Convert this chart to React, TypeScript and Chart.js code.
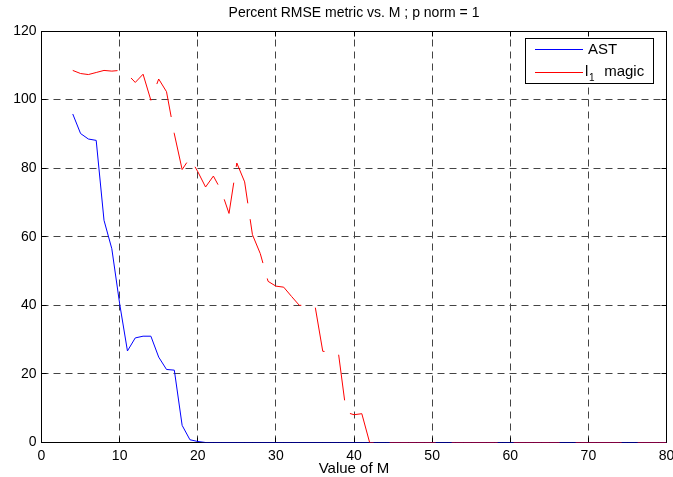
import React, { useEffect, useRef } from "react";
import { Chart, registerables } from "chart.js";

Chart.register(...registerables);

const TITLE = "Percent RMSE metric vs. M ; p norm = 1";
const X_LABEL = "Value of M";
const SERIES_NAMES = ["AST", "l1 magic"];

const M_VALUES = [
  4, 5, 6, 7, 8, 9, 10, 11, 12, 13,
  14, 15, 16, 17, 18, 19, 20, 21, 22, 23,
  24, 25, 26, 27, 28, 29, 30, 31, 32, 33,
  34, 35, 36, 37, 38, 39, 40, 41, 42, 43,
  44, 45, 46, 47, 48, 49, 50, 51, 52, 53,
  54, 55, 56, 57, 58, 59, 60, 61, 62, 63,
  64, 65, 66, 67, 68, 69, 70, 71, 72, 73,
  74, 75, 76, 77, 78, 79, 80,
];

const AST_VALUES = [
  95.8, 90.1, 88.5, 88.1, 64.8, 56.5, 40.5, 26.7, 30.5, 31,
  31, 24.9, 21.3, 21.1, 5, 0.8, 0.3, 0, 0, 0,
  0, 0, 0, 0, 0, 0, 0, 0, 0, 0,
  0, 0, 0, 0, 0, 0, 0, 0, 0, 0,
  0, 0, 0, 0, 0, 0, 0, 0, 0, 0,
  0, 0, 0, 0, 0, 0, 0, 0, 0, 0,
  0, 0, 0, 0, 0, 0, 0, 0, 0, 0,
  0, 0, 0, 0, 0, 0, 0,
];

const L1_VALUES = [
  108.5, 107.6, 107.3, 107.9, 108.5, 108.3, 108.5, 107.4, 105, 107.4,
  99.8, 106, 102.3, 90, 79.6, 83, 79, 74.5, 77.7, 73.5,
  66.8, 81.5, 76, 60.6, 55.1, 47, 45.6, 45.3, 42.6, 40,
  40, 40, 26.6, 26.4, 26.2, 8.8, 8.1, 8.4, 0, 0,
  0, 0, 0, 0, 0, 0, 0, 0, 0, 0,
  0, 0, 0, 0, 0, 0, 0, 0, 0, 0,
  0, 0, 0, 0, 0, 0, 0, 0, 0, 0,
  0, 0, 0, 0, 0, 0, 0,
];

const X_MIN = 0;
const X_MAX = 80;
const X_STEP = 10;
const Y_MIN = 0;
const Y_MAX = 120;
const Y_STEP = 20;

const FONT = 'Arial, "Liberation Sans", Helvetica, sans-serif';
const W = 673;
const H = 477;

const matlabPlugin = {
  id: "matlabDecor",
  beforeDatasetsDraw(chart: any) {
    const { ctx, chartArea: a, scales } = chart;
    const xs = scales.x;
    const ys = scales.y;
    const L = Math.floor(a.left) + 0.5;
    const R = Math.floor(a.right) + 0.5;
    const T = Math.floor(a.top) + 0.5;
    const B = Math.floor(a.bottom) + 0.5;
    ctx.save();
    // dashed grid
    ctx.strokeStyle = "#444";
    ctx.lineWidth = 1;
    ctx.setLineDash([7, 5]);
    ctx.beginPath();
    xs.ticks.forEach((t: any) => {
      const px = Math.floor(xs.getPixelForValue(t.value)) + 0.5;
      if (px <= L + 1 || px >= R - 1) return;
      ctx.moveTo(px, B);
      ctx.lineTo(px, T);
    });
    ys.ticks.forEach((t: any) => {
      const py = Math.floor(ys.getPixelForValue(t.value)) + 0.5;
      if (py <= T + 1 || py >= B - 1) return;
      ctx.moveTo(L, py);
      ctx.lineTo(R, py);
    });
    ctx.stroke();
    ctx.setLineDash([]);
    // tick marks
    ctx.strokeStyle = "#000";
    ctx.beginPath();
    const tl = 5;
    xs.ticks.forEach((t: any) => {
      const px = Math.floor(xs.getPixelForValue(t.value)) + 0.5;
      ctx.moveTo(px, B);
      ctx.lineTo(px, B - tl);
      ctx.moveTo(px, T);
      ctx.lineTo(px, T + tl);
    });
    ys.ticks.forEach((t: any) => {
      const py = Math.floor(ys.getPixelForValue(t.value)) + 0.5;
      ctx.moveTo(L, py);
      ctx.lineTo(L + tl, py);
      ctx.moveTo(R, py);
      ctx.lineTo(R - tl, py);
    });
    ctx.stroke();
    // box
    ctx.strokeRect(L, T, R - L, B - T);
    ctx.restore();
  },
  afterDraw(chart: any) {
    const { ctx, chartArea: a } = chart;
    ctx.save();
    // title
    ctx.fillStyle = "#000";
    ctx.font = `14px ${FONT}`;
    ctx.textAlign = "center";
    ctx.textBaseline = "middle";
    ctx.fillText(TITLE, (a.left + a.right) / 2, 13);
    // x axis label
    ctx.font = `15px ${FONT}`;
    ctx.fillText(X_LABEL, (a.left + a.right) / 2, 469);

    // legend
    const lx = Math.floor(a.right) - 141;
    const ly = Math.floor(a.top) + 7;
    const lw = 128;
    const lh = 45;
    ctx.fillStyle = "#fff";
    ctx.fillRect(lx, ly, lw, lh);
    ctx.strokeStyle = "#000";
    ctx.lineWidth = 1;
    ctx.strokeRect(lx + 0.5, ly + 0.5, lw, lh);
    const ds = chart.data.datasets;
    const rows = [ly + 11.5, ly + 34.5];
    ds.forEach((d: any, i: number) => {
      ctx.strokeStyle = d.borderColor;
      ctx.beginPath();
      ctx.moveTo(lx + 10, rows[i]);
      ctx.lineTo(lx + 58, rows[i]);
      ctx.stroke();
      ctx.fillStyle = "#000";
      ctx.textAlign = "left";
      ctx.textBaseline = "middle";
      ctx.font = `15px ${FONT}`;
      const label: string = d.label;
      if (label.startsWith("l1")) {
        ctx.fillText("l", lx + 60, rows[i] - 1);
        ctx.font = `10px ${FONT}`;
        ctx.fillText("1", lx + 64, rows[i] + 6);
        ctx.font = `15px ${FONT}`;
        ctx.fillText(label.slice(2), lx + 75, rows[i] - 1);
      } else {
        ctx.fillText(label, lx + 63, rows[i]);
      }
    });
    ctx.restore();
  },
};

export default function App() {
  const ref = useRef<HTMLCanvasElement | null>(null);

  useEffect(() => {
    document.body.style.margin = "0";
    const canvas = ref.current;
    if (!canvas) return;
    const astData = M_VALUES.map((m, i) => ({ x: m, y: AST_VALUES[i] }));
    const l1Data = M_VALUES.map((m, i) => ({ x: m, y: L1_VALUES[i] }));
    const chart = new Chart(canvas, {
      type: "line",
      data: {
        datasets: [
          {
            label: SERIES_NAMES[0],
            data: astData,
            borderColor: "#0000ff",
            backgroundColor: "#0000ff",
            borderWidth: 1,
            pointRadius: 0,
            tension: 0,
            fill: false,
            order: 1,
          },
          {
            label: SERIES_NAMES[1],
            data: l1Data,
            borderColor: "#ff0000",
            backgroundColor: "#ff0000",
            borderWidth: 1,
            borderDash: [46, 16],
            pointRadius: 0,
            tension: 0,
            fill: false,
            order: 0,
          },
        ],
      },
      options: {
        animation: false,
        responsive: false,
        devicePixelRatio: 1,
        layout: { padding: { top: 31, right: 6.5, left: 0.5, bottom: 0 } },
        plugins: {
          legend: { display: false },
          title: { display: false },
          tooltip: { enabled: false },
        },
        scales: {
          x: {
            type: "linear",
            min: X_MIN,
            max: X_MAX,
            afterFit: (s: any) => {
              s.height = 34.5;
              s.paddingLeft = 0;
              s.paddingRight = 0;
            },
            ticks: {
              stepSize: X_STEP,
              color: "#000",
              font: { family: FONT, size: 14 },
              padding: 5,
              maxRotation: 0,
              autoSkip: false,
            },
            grid: { display: false, drawTicks: false },
            border: { display: false },
          },
          y: {
            type: "linear",
            min: Y_MIN,
            max: Y_MAX,
            afterFit: (s: any) => {
              s.width = 41;
              s.paddingTop = 0;
              s.paddingBottom = 0;
            },
            ticks: {
              stepSize: Y_STEP,
              color: "#000",
              font: { family: FONT, size: 14 },
              padding: 5,
              autoSkip: false,
            },
            grid: { display: false, drawTicks: false },
            border: { display: false },
          },
        },
      },
      plugins: [matlabPlugin],
    } as any);
    return () => chart.destroy();
  }, []);

  return <canvas ref={ref} width={W} height={H} style={{ display: "block", width: W, height: H }} />;
}
